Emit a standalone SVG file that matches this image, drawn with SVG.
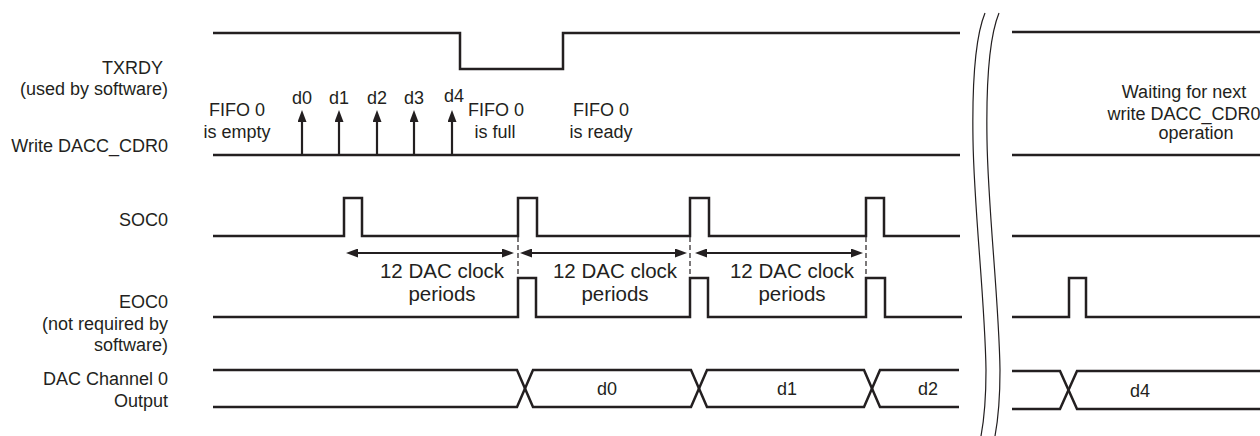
<svg xmlns="http://www.w3.org/2000/svg" width="1260" height="436" viewBox="0 0 1260 436">
<style>
  .sig{fill:none;stroke:#231f20;stroke-width:2.5;stroke-linejoin:miter}
  .brk{fill:none;stroke:#231f20;stroke-width:1.2}
  .arr{fill:none;stroke:#231f20;stroke-width:2.2}
  .dash{fill:none;stroke:#231f20;stroke-width:1.2;stroke-dasharray:5 3}
  text{font-family:"Liberation Sans",Arial,sans-serif;font-size:18px;fill:#231f20}
  .r{text-anchor:end}
  .m{text-anchor:middle}
  .big{font-size:20.5px}
</style>
<defs>
  <marker id="ah" viewBox="0 0 12 9" refX="4" refY="4.5" markerUnits="userSpaceOnUse" markerWidth="12" markerHeight="9" orient="auto-start-reverse">
    <path d="M0,0 L12,4.5 L0,9 z" fill="#231f20"/>
  </marker>
</defs>
<rect width="1260" height="436" fill="#ffffff"/>

<g id="txrdy">
  <text class="r" x="163" y="74">TXRDY</text>
  <text class="r" x="168" y="95">(used by software)</text>
  <path class="sig" d="M213,33 H460 V69 H563 V33 H960"/>
  <path class="sig" d="M1012,32 H1260"/>
</g>

<g id="write">
  <text class="r" x="168" y="152">Write DACC_CDR0</text>
  <path class="sig" d="M213,155 H960"/>
  <path class="sig" d="M1012,155 H1260"/>
  <text x="302" y="104" class="m">d0</text>
  <text x="339" y="104" class="m">d1</text>
  <text x="377" y="104" class="m">d2</text>
  <text x="414" y="104" class="m">d3</text>
  <text x="454" y="102" class="m">d4</text>
  <text class="m" x="237" y="116">FIFO 0</text>
  <text class="m" x="237" y="138">is empty</text>
  <text class="m" x="496" y="116">FIFO 0</text>
  <text class="m" x="495" y="138">is full</text>
  <text class="m" x="601" y="116">FIFO 0</text>
  <text class="m" x="601" y="138">is ready</text>
  <text class="m" x="1184" y="98">Waiting for next</text>
  <text class="m" x="1184" y="120">write DACC_CDR0</text>
  <text class="m" x="1196" y="139">operation</text>
</g>

<g id="soc0">
  <text class="r" x="168" y="226">SOC0</text>
  <path class="sig" d="M213,236 H344 V198 H362 V236 H518 V198 H537 V236 H690 V198 H709 V236 H866 V198 H884 V236 H960"/>
  <path class="sig" d="M1012,236 H1260"/>
</g>

<g id="periods">
  <text class="m big" x="442" y="278">12 DAC clock</text>
  <text class="m big" x="442" y="301">periods</text>
  <text class="m big" x="615" y="278">12 DAC clock</text>
  <text class="m big" x="615" y="301">periods</text>
  <text class="m big" x="792" y="278">12 DAC clock</text>
  <text class="m big" x="792" y="301">periods</text>
</g>

<g id="eoc0">
  <text class="r" x="168" y="308">EOC0</text>
  <text class="r" x="168" y="330">(not required by</text>
  <text class="r" x="168" y="351">software)</text>
  <path class="sig" d="M213,317 H518 V278 H536 V317 H690 V278 H708 V317 H866 V278 H885 V317 H962"/>
  <path class="sig" d="M1012,317 H1069 V278 H1086 V317 H1260"/>
</g>

<g id="dac-output">
  <text class="r" x="168" y="385">DAC Channel 0</text>
  <text class="r" x="168" y="407">Output</text>
  <path class="sig" d="M213,370 H517 L533,407 H691 L707,370 H864 L880,407 H959"/>
  <path class="sig" d="M213,407 H517 L533,370 H691 L707,407 H864 L880,370 H959"/>
  <path class="sig" d="M1012,371 H1060 L1077,409 H1260"/>
  <path class="sig" d="M1012,409 H1060 L1077,371 H1260"/>
  <text class="m" x="607" y="395">d0</text>
  <text class="m" x="787" y="395">d1</text>
  <text class="m" x="928" y="395">d2</text>
  <text class="m" x="1140" y="397">d4</text>
</g>

<g id="break">
  <path class="brk" d="M985,13 C976,35 972,80 973,140 C974,210 985,300 986,370 C986,400 984,420 981,436"/>
  <path class="brk" d="M999,13 C990,35 986,80 987,140 C988,210 999,300 1000,370 C1000,400 998,420 995,436"/>
</g>

<g id="connectors">
  <line class="arr" x1="302" y1="155" x2="302" y2="118" marker-end="url(#ah)"/>
  <line class="arr" x1="339" y1="155" x2="339" y2="118" marker-end="url(#ah)"/>
  <line class="arr" x1="377" y1="155" x2="377" y2="118" marker-end="url(#ah)"/>
  <line class="arr" x1="414" y1="155" x2="414" y2="118" marker-end="url(#ah)"/>
  <line class="arr" x1="452" y1="155" x2="452" y2="118" marker-end="url(#ah)"/>
  <line class="arr" x1="354" y1="253" x2="506" y2="253" marker-start="url(#ah)" marker-end="url(#ah)"/>
  <line class="arr" x1="528" y1="253" x2="679" y2="253" marker-start="url(#ah)" marker-end="url(#ah)"/>
  <line class="arr" x1="703" y1="253" x2="855" y2="253" marker-start="url(#ah)" marker-end="url(#ah)"/>
  <line class="dash" x1="518" y1="237" x2="518" y2="278"/>
  <line class="dash" x1="690" y1="237" x2="690" y2="278"/>
  <line class="dash" x1="866" y1="237" x2="866" y2="278"/>
</g>
</svg>
